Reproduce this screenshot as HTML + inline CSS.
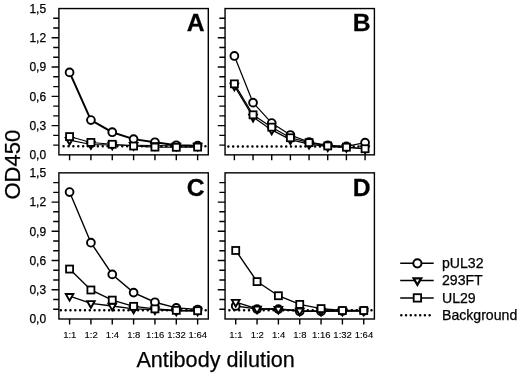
<!DOCTYPE html>
<html lang="en"><head><meta charset="utf-8"><title>OD450 vs antibody dilution</title>
<style>html,body{margin:0;padding:0;background:#fff}body{width:520px;height:375px;overflow:hidden}svg{display:block}</style>
</head><body>
<svg width="520" height="375" viewBox="0 0 520 375" font-family="'Liberation Sans', sans-serif" fill="#000">
<style>text{stroke:#000;stroke-width:.25px}text.s{stroke-width:.12px}</style>
<rect width="520" height="375" fill="#fff"/>
<g>
<path d="M53.2 18.3H58.9M53.2 28.06H58.9M51.6 37.81H58.9M53.2 47.56H58.9M53.2 57.32H58.9M51.6 67.07H58.9M53.2 76.82H58.9M53.2 86.58H58.9M51.6 96.33H58.9M53.2 106.08H58.9M53.2 115.84H58.9M51.6 125.59H58.9M53.2 135.34H58.9M53.2 145.1H58.9M69.57 154.85V160.35M90.91 154.85V160.35M112.26 154.85V160.35M133.6 154.85V160.35M154.94 154.85V160.35M176.29 154.85V160.35M197.63 154.85V160.35" stroke="#000" stroke-width="1.4" fill="none"/>
<path d="M63.6 146.32H206.3" stroke="#000" stroke-width="2.5" stroke-linecap="round" stroke-dasharray="0.01 4.88" fill="none"/>
<polyline points="69.57,72.4 90.91,120.06 112.26,132.22 133.6,139.12 154.94,142.24 176.29,145.25 197.63,145.64" fill="none" stroke="#000" stroke-width="2.0"/>
<circle cx="69.57" cy="72.4" r="3.9" fill="#fff" stroke="#000" stroke-width="1.9"/>
<circle cx="90.91" cy="120.06" r="3.9" fill="#fff" stroke="#000" stroke-width="1.9"/>
<circle cx="112.26" cy="132.22" r="3.9" fill="#fff" stroke="#000" stroke-width="1.9"/>
<circle cx="133.6" cy="139.12" r="3.9" fill="#fff" stroke="#000" stroke-width="1.9"/>
<circle cx="154.94" cy="142.24" r="3.9" fill="#fff" stroke="#000" stroke-width="1.9"/>
<circle cx="176.29" cy="145.25" r="3.9" fill="#fff" stroke="#000" stroke-width="1.9"/>
<circle cx="197.63" cy="145.64" r="3.9" fill="#fff" stroke="#000" stroke-width="1.9"/>
<polyline points="69.57,140.1 90.91,144.47 112.26,144.96 133.6,145.25 154.94,145.45 176.29,145.93 197.63,145.93" fill="none" stroke="#000" stroke-width="1.1"/>
<path d="M65.77 137.86H73.37L69.57 144.56Z" fill="#fff" stroke="#000" stroke-width="1.9" stroke-linejoin="miter"/>
<path d="M87.11 142.24H94.71L90.91 148.94Z" fill="#fff" stroke="#000" stroke-width="1.9" stroke-linejoin="miter"/>
<path d="M108.46 142.73H116.06L112.26 149.43Z" fill="#fff" stroke="#000" stroke-width="1.9" stroke-linejoin="miter"/>
<path d="M129.8 143.02H137.4L133.6 149.72Z" fill="#fff" stroke="#000" stroke-width="1.9" stroke-linejoin="miter"/>
<path d="M151.14 143.21H158.74L154.94 149.91Z" fill="#fff" stroke="#000" stroke-width="1.9" stroke-linejoin="miter"/>
<path d="M172.49 143.7H180.09L176.29 150.4Z" fill="#fff" stroke="#000" stroke-width="1.9" stroke-linejoin="miter"/>
<path d="M193.83 143.7H201.43L197.63 150.4Z" fill="#fff" stroke="#000" stroke-width="1.9" stroke-linejoin="miter"/>
<polyline points="69.57,136.59 90.91,142.43 112.26,144.28 133.6,146.03 154.94,147.1 176.29,147.29 197.63,147.1" fill="none" stroke="#000" stroke-width="1.1"/>
<rect x="66.07" y="133.09" width="7" height="7" fill="#fff" stroke="#000" stroke-width="1.8"/>
<rect x="87.41" y="138.93" width="7" height="7" fill="#fff" stroke="#000" stroke-width="1.8"/>
<rect x="108.76" y="140.78" width="7" height="7" fill="#fff" stroke="#000" stroke-width="1.8"/>
<rect x="130.1" y="142.53" width="7" height="7" fill="#fff" stroke="#000" stroke-width="1.8"/>
<rect x="151.44" y="143.6" width="7" height="7" fill="#fff" stroke="#000" stroke-width="1.8"/>
<rect x="172.79" y="143.79" width="7" height="7" fill="#fff" stroke="#000" stroke-width="1.8"/>
<rect x="194.13" y="143.6" width="7" height="7" fill="#fff" stroke="#000" stroke-width="1.8"/>
<rect x="58.9" y="8.55" width="149.4" height="146.3" fill="none" stroke="#000" stroke-width="1.4"/>
<text transform="translate(204.6 31.25) scale(1.03 1)" font-size="24" font-weight="bold" text-anchor="end" fill="#000" stroke="#000" stroke-width="0.3">A</text>
<text x="46.1" y="12.75" font-size="12" text-anchor="end">1,5</text>
<text x="46.1" y="42.01" font-size="12" text-anchor="end">1,2</text>
<text x="46.1" y="71.27" font-size="12" text-anchor="end">0,9</text>
<text x="46.1" y="100.53" font-size="12" text-anchor="end">0,6</text>
<text x="46.1" y="129.79" font-size="12" text-anchor="end">0,3</text>
<text x="46.1" y="159.05" font-size="12" text-anchor="end">0,0</text>
</g>
<g>
<path d="M219.35 18.3H225.05M219.35 28.06H225.05M217.75 37.81H225.05M219.35 47.56H225.05M219.35 57.32H225.05M217.75 67.07H225.05M219.35 76.82H225.05M219.35 86.58H225.05M217.75 96.33H225.05M219.35 106.08H225.05M219.35 115.84H225.05M217.75 125.59H225.05M219.35 135.34H225.05M219.35 145.1H225.05M234.38 154.85V160.35M253.05 154.85V160.35M271.72 154.85V160.35M290.39 154.85V160.35M309.06 154.85V160.35M327.73 154.85V160.35M346.4 154.85V160.35M365.07 154.85V160.35" stroke="#000" stroke-width="1.4" fill="none"/>
<path d="M228.35 146.42H372.4" stroke="#000" stroke-width="2.5" stroke-linecap="round" stroke-dasharray="0.01 4.81" fill="none"/>
<polyline points="234.38,55.96 253.05,102.65 271.72,123.07 290.39,135.04 309.06,142.14 327.73,145.35 346.4,146.32 365.07,142.62" fill="none" stroke="#000" stroke-width="1.25"/>
<circle cx="234.38" cy="55.96" r="3.9" fill="#fff" stroke="#000" stroke-width="1.9"/>
<circle cx="253.05" cy="102.65" r="3.9" fill="#fff" stroke="#000" stroke-width="1.9"/>
<circle cx="271.72" cy="123.07" r="3.9" fill="#fff" stroke="#000" stroke-width="1.9"/>
<circle cx="290.39" cy="135.04" r="3.9" fill="#fff" stroke="#000" stroke-width="1.9"/>
<circle cx="309.06" cy="142.14" r="3.9" fill="#fff" stroke="#000" stroke-width="1.9"/>
<circle cx="327.73" cy="145.35" r="3.9" fill="#fff" stroke="#000" stroke-width="1.9"/>
<circle cx="346.4" cy="146.32" r="3.9" fill="#fff" stroke="#000" stroke-width="1.9"/>
<circle cx="365.07" cy="142.62" r="3.9" fill="#fff" stroke="#000" stroke-width="1.9"/>
<polyline points="234.38,85.92 253.05,117.04 271.72,129.88 290.39,139.61 309.06,144.08 327.73,146.71 346.4,147.39 365.07,148.75" fill="none" stroke="#000" stroke-width="1.2"/>
<path d="M230.58 83.68H238.18L234.38 90.38Z" fill="#fff" stroke="#000" stroke-width="1.9" stroke-linejoin="miter"/>
<path d="M249.25 114.81H256.85L253.05 121.51Z" fill="#fff" stroke="#000" stroke-width="1.9" stroke-linejoin="miter"/>
<path d="M267.92 127.65H275.52L271.72 134.35Z" fill="#fff" stroke="#000" stroke-width="1.9" stroke-linejoin="miter"/>
<path d="M286.59 137.38H294.19L290.39 144.08Z" fill="#fff" stroke="#000" stroke-width="1.9" stroke-linejoin="miter"/>
<path d="M305.26 141.85H312.86L309.06 148.55Z" fill="#fff" stroke="#000" stroke-width="1.9" stroke-linejoin="miter"/>
<path d="M323.93 144.48H331.53L327.73 151.18Z" fill="#fff" stroke="#000" stroke-width="1.9" stroke-linejoin="miter"/>
<path d="M342.6 145.16H350.2L346.4 151.86Z" fill="#fff" stroke="#000" stroke-width="1.9" stroke-linejoin="miter"/>
<path d="M361.27 146.52H368.87L365.07 153.22Z" fill="#fff" stroke="#000" stroke-width="1.9" stroke-linejoin="miter"/>
<polyline points="234.38,83.87 253.05,114.81 271.72,127.16 290.39,137.76 309.06,142.62 327.73,145.93 346.4,147.2 365.07,148.75" fill="none" stroke="#000" stroke-width="1.2"/>
<rect x="230.88" y="80.37" width="7" height="7" fill="#fff" stroke="#000" stroke-width="1.8"/>
<rect x="249.55" y="111.31" width="7" height="7" fill="#fff" stroke="#000" stroke-width="1.8"/>
<rect x="268.22" y="123.66" width="7" height="7" fill="#fff" stroke="#000" stroke-width="1.8"/>
<rect x="286.89" y="134.26" width="7" height="7" fill="#fff" stroke="#000" stroke-width="1.8"/>
<rect x="305.56" y="139.12" width="7" height="7" fill="#fff" stroke="#000" stroke-width="1.8"/>
<rect x="324.23" y="142.43" width="7" height="7" fill="#fff" stroke="#000" stroke-width="1.8"/>
<rect x="342.9" y="143.7" width="7" height="7" fill="#fff" stroke="#000" stroke-width="1.8"/>
<rect x="361.57" y="145.25" width="7" height="7" fill="#fff" stroke="#000" stroke-width="1.8"/>
<rect x="225.05" y="8.55" width="149.35" height="146.3" fill="none" stroke="#000" stroke-width="1.4"/>
<text transform="translate(370.7 31.25) scale(1.03 1)" font-size="24" font-weight="bold" text-anchor="end" fill="#000" stroke="#000" stroke-width="0.3">B</text>
</g>
<g>
<path d="M53.2 182.59H58.9M53.2 192.34H58.9M51.6 202.08H58.9M53.2 211.82H58.9M53.2 221.57H58.9M51.6 231.31H58.9M53.2 241.05H58.9M53.2 250.8H58.9M51.6 260.54H58.9M53.2 270.28H58.9M53.2 280.03H58.9M51.6 289.77H58.9M53.2 299.51H58.9M53.2 309.26H58.9M69.57 319V324.5M90.91 319V324.5M112.26 319V324.5M133.6 319V324.5M154.94 319V324.5M176.29 319V324.5M197.63 319V324.5" stroke="#000" stroke-width="1.4" fill="none"/>
<path d="M60.8 310.13H206.3" stroke="#000" stroke-width="2.5" stroke-linecap="round" stroke-dasharray="0.01 4.82" fill="none"/>
<polyline points="69.57,192.07 90.91,242.68 112.26,274.41 133.6,292.61 154.94,302.25 176.29,307.89 197.63,309.55" fill="none" stroke="#000" stroke-width="1.4"/>
<circle cx="69.57" cy="192.07" r="3.9" fill="#fff" stroke="#000" stroke-width="1.9"/>
<circle cx="90.91" cy="242.68" r="3.9" fill="#fff" stroke="#000" stroke-width="1.9"/>
<circle cx="112.26" cy="274.41" r="3.9" fill="#fff" stroke="#000" stroke-width="1.9"/>
<circle cx="133.6" cy="292.61" r="3.9" fill="#fff" stroke="#000" stroke-width="1.9"/>
<circle cx="154.94" cy="302.25" r="3.9" fill="#fff" stroke="#000" stroke-width="1.9"/>
<circle cx="176.29" cy="307.89" r="3.9" fill="#fff" stroke="#000" stroke-width="1.9"/>
<circle cx="197.63" cy="309.55" r="3.9" fill="#fff" stroke="#000" stroke-width="1.9"/>
<polyline points="69.57,296.21 90.91,303.32 112.26,305.95 133.6,308.87 154.94,309.65 176.29,310.91 197.63,310.91" fill="none" stroke="#000" stroke-width="1.4"/>
<path d="M65.77 293.98H73.37L69.57 300.68Z" fill="#fff" stroke="#000" stroke-width="1.9" stroke-linejoin="miter"/>
<path d="M87.11 301.09H94.71L90.91 307.79Z" fill="#fff" stroke="#000" stroke-width="1.9" stroke-linejoin="miter"/>
<path d="M108.46 303.71H116.06L112.26 310.41Z" fill="#fff" stroke="#000" stroke-width="1.9" stroke-linejoin="miter"/>
<path d="M129.8 306.63H137.4L133.6 313.33Z" fill="#fff" stroke="#000" stroke-width="1.9" stroke-linejoin="miter"/>
<path d="M151.14 307.41H158.74L154.94 314.11Z" fill="#fff" stroke="#000" stroke-width="1.9" stroke-linejoin="miter"/>
<path d="M172.49 308.68H180.09L176.29 315.38Z" fill="#fff" stroke="#000" stroke-width="1.9" stroke-linejoin="miter"/>
<path d="M193.83 308.68H201.43L197.63 315.38Z" fill="#fff" stroke="#000" stroke-width="1.9" stroke-linejoin="miter"/>
<polyline points="69.57,269.06 90.91,289.98 112.26,300.11 133.6,306.34 154.94,308.87 176.29,310.33 197.63,310.72" fill="none" stroke="#000" stroke-width="1.4"/>
<rect x="66.07" y="265.56" width="7" height="7" fill="#fff" stroke="#000" stroke-width="1.8"/>
<rect x="87.41" y="286.48" width="7" height="7" fill="#fff" stroke="#000" stroke-width="1.8"/>
<rect x="108.76" y="296.61" width="7" height="7" fill="#fff" stroke="#000" stroke-width="1.8"/>
<rect x="130.1" y="302.84" width="7" height="7" fill="#fff" stroke="#000" stroke-width="1.8"/>
<rect x="151.44" y="305.37" width="7" height="7" fill="#fff" stroke="#000" stroke-width="1.8"/>
<rect x="172.79" y="306.83" width="7" height="7" fill="#fff" stroke="#000" stroke-width="1.8"/>
<rect x="194.13" y="307.22" width="7" height="7" fill="#fff" stroke="#000" stroke-width="1.8"/>
<rect x="58.9" y="172.85" width="149.4" height="146.15" fill="none" stroke="#000" stroke-width="1.4"/>
<text transform="translate(204.6 195.55) scale(1.03 1)" font-size="24" font-weight="bold" text-anchor="end" fill="#000" stroke="#000" stroke-width="0.3">C</text>
<text x="46.1" y="177.05" font-size="12" text-anchor="end">1,5</text>
<text x="46.1" y="206.28" font-size="12" text-anchor="end">1,2</text>
<text x="46.1" y="235.51" font-size="12" text-anchor="end">0,9</text>
<text x="46.1" y="264.74" font-size="12" text-anchor="end">0,6</text>
<text x="46.1" y="293.97" font-size="12" text-anchor="end">0,3</text>
<text x="46.1" y="323.2" font-size="12" text-anchor="end">0,0</text>
<text x="69.77" y="337.8" font-size="9.5" text-anchor="middle" class="s">1:1</text>
<text x="91.11" y="337.8" font-size="9.5" text-anchor="middle" class="s">1:2</text>
<text x="112.46" y="337.8" font-size="9.5" text-anchor="middle" class="s">1:4</text>
<text x="133.8" y="337.8" font-size="9.5" text-anchor="middle" class="s">1:8</text>
<text x="155.14" y="337.8" font-size="9.5" text-anchor="middle" class="s">1:16</text>
<text x="176.49" y="337.8" font-size="9.5" text-anchor="middle" class="s">1:32</text>
<text x="197.83" y="337.8" font-size="9.5" text-anchor="middle" class="s">1:64</text>
</g>
<g>
<path d="M219.35 182.59H225.05M219.35 192.34H225.05M217.75 202.08H225.05M219.35 211.82H225.05M219.35 221.57H225.05M217.75 231.31H225.05M219.35 241.05H225.05M219.35 250.8H225.05M217.75 260.54H225.05M219.35 270.28H225.05M219.35 280.03H225.05M217.75 289.77H225.05M219.35 299.51H225.05M219.35 309.26H225.05M235.72 319V324.5M257.05 319V324.5M278.39 319V324.5M299.73 319V324.5M321.06 319V324.5M342.4 319V324.5M363.73 319V324.5" stroke="#000" stroke-width="1.4" fill="none"/>
<path d="M229.4 310.13H372.4" stroke="#000" stroke-width="2.5" stroke-linecap="round" stroke-dasharray="0.01 4.89" fill="none"/>
<polyline points="235.72,305.95 257.05,309.06 278.39,309.06 299.73,311.4 321.06,311.4 342.4,311.01 363.73,310.81" fill="none" stroke="#000" stroke-width="1.4"/>
<circle cx="235.72" cy="305.95" r="3.9" fill="#fff" stroke="#000" stroke-width="1.9"/>
<circle cx="257.05" cy="309.06" r="3.9" fill="#fff" stroke="#000" stroke-width="1.9"/>
<circle cx="278.39" cy="309.06" r="3.9" fill="#fff" stroke="#000" stroke-width="1.9"/>
<circle cx="299.73" cy="311.4" r="3.9" fill="#fff" stroke="#000" stroke-width="1.9"/>
<circle cx="321.06" cy="311.4" r="3.9" fill="#fff" stroke="#000" stroke-width="1.9"/>
<circle cx="342.4" cy="311.01" r="3.9" fill="#fff" stroke="#000" stroke-width="1.9"/>
<circle cx="363.73" cy="310.81" r="3.9" fill="#fff" stroke="#000" stroke-width="1.9"/>
<polyline points="235.72,302.15 257.05,308.87 278.39,309.06 299.73,310.81 321.06,311.01 342.4,310.81 363.73,310.81" fill="none" stroke="#000" stroke-width="1.4"/>
<path d="M231.92 299.92H239.52L235.72 306.62Z" fill="#fff" stroke="#000" stroke-width="1.9" stroke-linejoin="miter"/>
<path d="M253.25 306.63H260.85L257.05 313.33Z" fill="#fff" stroke="#000" stroke-width="1.9" stroke-linejoin="miter"/>
<path d="M274.59 306.83H282.19L278.39 313.53Z" fill="#fff" stroke="#000" stroke-width="1.9" stroke-linejoin="miter"/>
<path d="M295.93 308.58H303.53L299.73 315.28Z" fill="#fff" stroke="#000" stroke-width="1.9" stroke-linejoin="miter"/>
<path d="M317.26 308.77H324.86L321.06 315.47Z" fill="#fff" stroke="#000" stroke-width="1.9" stroke-linejoin="miter"/>
<path d="M338.6 308.58H346.2L342.4 315.28Z" fill="#fff" stroke="#000" stroke-width="1.9" stroke-linejoin="miter"/>
<path d="M359.93 308.58H367.53L363.73 315.28Z" fill="#fff" stroke="#000" stroke-width="1.9" stroke-linejoin="miter"/>
<polyline points="235.72,250.47 257.05,281.61 278.39,295.73 299.73,304.39 321.06,308.58 342.4,310.52 363.73,310.52" fill="none" stroke="#000" stroke-width="1.4"/>
<rect x="232.22" y="246.97" width="7" height="7" fill="#fff" stroke="#000" stroke-width="1.8"/>
<rect x="253.55" y="278.11" width="7" height="7" fill="#fff" stroke="#000" stroke-width="1.8"/>
<rect x="274.89" y="292.23" width="7" height="7" fill="#fff" stroke="#000" stroke-width="1.8"/>
<rect x="296.23" y="300.89" width="7" height="7" fill="#fff" stroke="#000" stroke-width="1.8"/>
<rect x="317.56" y="305.08" width="7" height="7" fill="#fff" stroke="#000" stroke-width="1.8"/>
<rect x="338.9" y="307.02" width="7" height="7" fill="#fff" stroke="#000" stroke-width="1.8"/>
<rect x="360.23" y="307.02" width="7" height="7" fill="#fff" stroke="#000" stroke-width="1.8"/>
<rect x="225.05" y="172.85" width="149.35" height="146.15" fill="none" stroke="#000" stroke-width="1.4"/>
<text transform="translate(370.7 195.55) scale(1.03 1)" font-size="24" font-weight="bold" text-anchor="end" fill="#000" stroke="#000" stroke-width="0.3">D</text>
<text x="235.92" y="337.8" font-size="9.5" text-anchor="middle" class="s">1:1</text>
<text x="257.25" y="337.8" font-size="9.5" text-anchor="middle" class="s">1:2</text>
<text x="278.59" y="337.8" font-size="9.5" text-anchor="middle" class="s">1:4</text>
<text x="299.93" y="337.8" font-size="9.5" text-anchor="middle" class="s">1:8</text>
<text x="321.26" y="337.8" font-size="9.5" text-anchor="middle" class="s">1:16</text>
<text x="342.6" y="337.8" font-size="9.5" text-anchor="middle" class="s">1:32</text>
<text x="363.93" y="337.8" font-size="9.5" text-anchor="middle" class="s">1:64</text>
</g>
<text transform="translate(19.5 164.7) rotate(-90)" font-size="22" text-anchor="middle">OD450</text>
<text x="215.65" y="367.2" font-size="21.6" text-anchor="middle">Antibody dilution</text>
<path d="M400.2 263.3H433.7" stroke="#000" stroke-width="1.5"/>
<circle cx="417.4" cy="263.3" r="4.1" fill="#fff" stroke="#000" stroke-width="2.0"/>
<path d="M400.2 280.5H433.7" stroke="#000" stroke-width="1.5"/>
<path d="M413.6 278.3H421.2L417.4 284.9Z" fill="#fff" stroke="#000" stroke-width="2.2" stroke-linejoin="miter"/>
<path d="M400.2 297.9H433.7" stroke="#000" stroke-width="1.5"/>
<rect x="413.7" y="294.2" width="7.4" height="7.4" fill="#fff" stroke="#000" stroke-width="1.8"/>
<path d="M401.3 315.3H433.7" stroke="#000" stroke-width="2.5" stroke-linecap="round" stroke-dasharray="0.01 4.71"/>
<text x="442" y="268.2" font-size="14.1">pUL32</text>
<text x="442" y="285.4" font-size="14.1">293FT</text>
<text x="442" y="302.8" font-size="14.1">UL29</text>
<text x="442" y="320.2" font-size="14.1">Background</text>
</svg>
</body></html>
